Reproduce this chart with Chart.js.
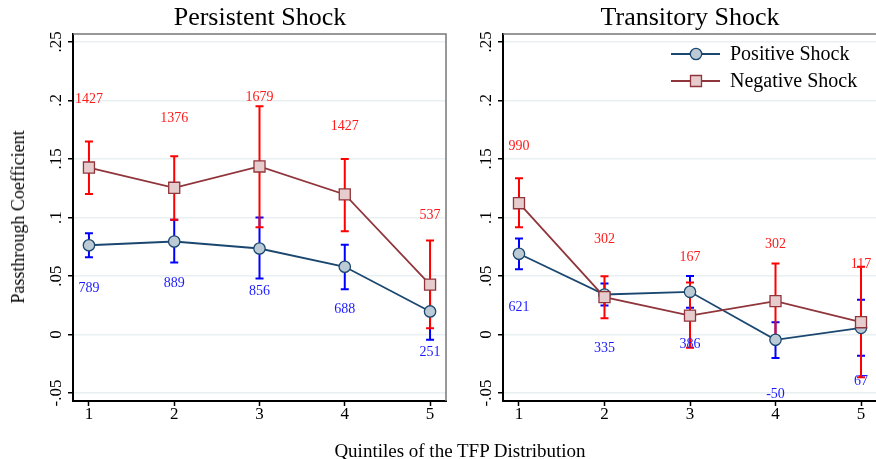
<!DOCTYPE html>
<html>
<head>
<meta charset="utf-8">
<script src="https://cdn.jsdelivr.net/npm/chart.js@4"></script>
<style>
  body { margin:0; width:876px; height:459px; overflow:hidden; background:#fff; position:relative;
         font-family:'Liberation Serif','DejaVu Serif',serif; }
  canvas { position:absolute; top:0; }
  .t { position:absolute; white-space:nowrap; color:#000; }
</style>
</head>
<body>
<canvas id="pers" width="450" height="459" style="left:0"></canvas>
<canvas id="tran" width="430" height="459" style="left:450px"></canvas>
<div class="t" style="left:260px;top:4px;font-size:26px;line-height:26px;transform:translateX(-50%)">Persistent Shock</div>
<div class="t" style="left:690px;top:4px;font-size:26px;line-height:26px;transform:translateX(-50%)">Transitory Shock</div>
<div class="t" style="left:18px;top:217px;font-size:18px;line-height:18px;transform:translate(-50%,-50%) rotate(-90deg)">Passthrough Coefficient</div>
<div class="t" style="left:460px;top:450px;font-size:19px;line-height:19px;transform:translate(-50%,-50%)">Quintiles of the TFP Distribution</div>
<script>
// quintiles and axis ticks
const quintiles = [1, 2, 3, 4, 5];
const yTicks = [-0.05, 0, 0.05, 0.1, 0.15, 0.2, 0.25];
const seriesNames = ['Positive Shock', 'Negative Shock'];

// persistent shock: estimates, 95% bounds, obs counts and where the counts sit
const persPos   = [0.0763, 0.0795, 0.0735, 0.0579, 0.0197];
const persPosLo = [0.0660, 0.0615, 0.0479, 0.0387, -0.0045];
const persPosHi = [0.0866, 0.0980, 0.1000, 0.0767, 0.0440];
const persNeg   = [0.1427, 0.1254, 0.1436, 0.1197, 0.0427];
const persNegLo = [0.1200, 0.0980, 0.0917, 0.0883, 0.0054];
const persNegHi = [0.1650, 0.1524, 0.1950, 0.1500, 0.0803];
const persPosN  = [789, 889, 856, 688, 251];
const persNegN  = [1427, 1376, 1679, 1427, 537];
const persPosNY = [0.0396, 0.0436, 0.0370, 0.0216, -0.0154];
const persNegNY = [0.2010, 0.1846, 0.2026, 0.1780, 0.1017];

// transitory shock
const tranPos   = [0.0690, 0.0342, 0.0365, -0.0045, 0.0057];
const tranPosLo = [0.0558, 0.0248, 0.0228, -0.0200, -0.0182];
const tranPosHi = [0.0820, 0.0436, 0.0501, 0.0105, 0.0297];
const tranNeg   = [0.1122, 0.0319, 0.0162, 0.0285, 0.0105];
const tranNegLo = [0.0917, 0.0139, -0.0114, -0.0037, -0.0365];
const tranNegHi = [0.1336, 0.0498, 0.0444, 0.0607, 0.0580];
const tranPosN  = [621, 335, 386, -50, 67];
const tranNegN  = [990, 302, 167, 302, 117];
const tranPosNY = [0.0233, -0.0114, -0.0088, -0.0507, -0.0402];
const tranNegNY = [0.1612, 0.0812, 0.0660, 0.0775, 0.0598];

const SERIF = "'Liberation Serif', 'DejaVu Serif', serif";
const NAVY = '#1a476f', NAVY_FILL = '#bccad6';
const MAROON = '#90353b', MAROON_FILL = '#e6cccd';
const GRID = '#e8f0f2';

function fmtTick(v) {
  if (v === 0) return '0';
  return (v < 0 ? '-' : '') + String(Math.abs(v)).replace(/^0/, '');
}

function makeChart(id, p, leftW, padRight, showLegend) {
  const ctxEl = document.getElementById(id);

  const decor = {
    id: 'decor',
    beforeDatasetsDraw(chart) {
      const c = chart.ctx, xs = chart.scales.x, ys = chart.scales.y;
      const bars = [[p.posLo, p.posHi, '#0000ff'], [p.negLo, p.negHi, '#ff0000']];
      c.save();
      c.lineWidth = 2;
      bars.forEach(([lo, hi, col]) => {
        c.strokeStyle = col;
        quintiles.forEach((q, i) => {
          const x = xs.getPixelForValue(q);
          const y1 = ys.getPixelForValue(lo[i]), y2 = ys.getPixelForValue(hi[i]);
          c.beginPath();
          c.moveTo(x, y1); c.lineTo(x, y2);
          c.moveTo(x - 4, y1); c.lineTo(x + 4, y1);
          c.moveTo(x - 4, y2); c.lineTo(x + 4, y2);
          c.stroke();
        });
      });
      c.restore();
    },
    afterDatasetsDraw(chart) {
      const c = chart.ctx, xs = chart.scales.x, ys = chart.scales.y, a = chart.chartArea;
      c.save();
      c.font = '14px ' + SERIF;
      c.textAlign = 'center';
      c.textBaseline = 'middle';
      quintiles.forEach((q, i) => {
        const x = xs.getPixelForValue(q);
        c.fillStyle = '#ff1a1a';
        c.fillText(String(p.negN[i]), x, ys.getPixelForValue(p.negNY[i]));
        c.fillStyle = '#1a1aff';
        c.fillText(String(p.posN[i]), x, ys.getPixelForValue(p.posNY[i]));
      });
      // tick labels: x plain, y rotated (Stata style)
      c.fillStyle = '#000';
      c.font = '17px ' + SERIF;
      quintiles.forEach(q => c.fillText(String(q), xs.getPixelForValue(q), a.bottom + 14));
      yTicks.forEach(v => {
        c.save();
        c.translate(a.left - 17, ys.getPixelForValue(v));
        c.rotate(-Math.PI / 2);
        c.fillText(fmtTick(v), 0, 1);
        c.restore();
      });
      // grey outline on top and right
      c.strokeStyle = '#777';
      c.lineWidth = 1.5;
      c.beginPath();
      c.moveTo(a.left, a.top); c.lineTo(a.right, a.top); c.lineTo(a.right, a.bottom);
      c.stroke();

      if (showLegend) {
        const items = [[seriesNames[0], NAVY, NAVY_FILL, 'circle', 54], [seriesNames[1], MAROON, MAROON_FILL, 'rect', 81]];
        items.forEach(([name, col, fill, shape, y]) => {
          c.strokeStyle = col;
          c.lineWidth = 2;
          c.beginPath(); c.moveTo(221, y); c.lineTo(270, y); c.stroke();
          c.fillStyle = fill;
          c.lineWidth = 1.3;
          c.beginPath();
          if (shape === 'circle') c.arc(246, y, 5.7, 0, Math.PI * 2);
          else c.rect(240.5, y - 5.5, 11, 11);
          c.fill(); c.stroke();
          c.fillStyle = '#000';
          c.font = '20px ' + SERIF;
          c.textAlign = 'left';
          c.fillText(name, 280, y + 1);
        });
      }
      c.restore();
    }
  };

  return new Chart(ctxEl, {
    type: 'scatter',
    data: {
      datasets: [
        {
          label: seriesNames[1], order: 0,
          data: quintiles.map((q, i) => ({ x: q, y: p.neg[i] })),
          showLine: true, borderColor: MAROON, borderWidth: 1.8,
          pointStyle: 'rect', pointRadius: 7.8, pointBackgroundColor: MAROON_FILL,
          pointBorderColor: MAROON, pointBorderWidth: 1.3
        },
        {
          label: seriesNames[0], order: 1,
          data: quintiles.map((q, i) => ({ x: q, y: p.pos[i] })),
          showLine: true, borderColor: NAVY, borderWidth: 1.8,
          pointStyle: 'circle', pointRadius: 5.7, pointBackgroundColor: NAVY_FILL,
          pointBorderColor: NAVY, pointBorderWidth: 1.3
        }
      ]
    },
    options: {
      responsive: false, animation: false, devicePixelRatio: 1,
      layout: { autoPadding: false, padding: { left: 0, top: 34, right: padRight, bottom: 0 } },
      plugins: { legend: { display: false }, tooltip: { enabled: false } },
      scales: {
        x: {
          type: 'linear', min: 0.813, max: 5.187,
          afterBuildTicks: s => { s.ticks = quintiles.map(v => ({ value: v })); },
          afterFit: s => { s.height = 58; },
          grid: { drawOnChartArea: false, tickLength: 5, tickColor: '#000', tickWidth: 1.5 },
          border: { color: '#000', width: 2 },
          ticks: { display: false }
        },
        y: {
          type: 'linear', min: -0.0568, max: 0.2568,
          afterBuildTicks: s => { s.ticks = yTicks.map(v => ({ value: v })); },
          afterFit: s => { s.width = leftW; },
          grid: { color: GRID, lineWidth: 1.5, tickLength: 5, tickColor: '#000', tickWidth: 1.5 },
          border: { color: '#000', width: 2 },
          ticks: { display: false }
        }
      }
    },
    plugins: [decor]
  });
}

makeChart('pers', {
  pos: persPos, posLo: persPosLo, posHi: persPosHi,
  neg: persNeg, negLo: persNegLo, negHi: persNegHi,
  posN: persPosN, negN: persNegN, posNY: persPosNY, negNY: persNegNY
}, 73, 4, false);

makeChart('tran', {
  pos: tranPos, posLo: tranPosLo, posHi: tranPosHi,
  neg: tranNeg, negLo: tranNegLo, negHi: tranNegHi,
  posN: tranPosN, negN: tranNegN, posNY: tranPosNY, negNY: tranNegNY
}, 53, 3, true);
</script>
</body>
</html>
